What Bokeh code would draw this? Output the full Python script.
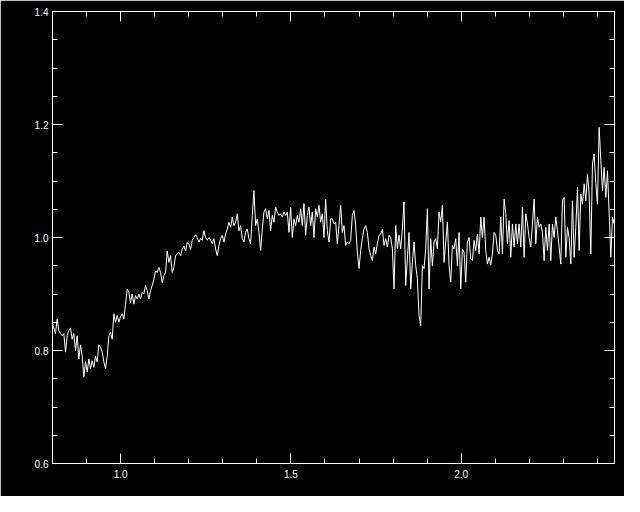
import numpy as np
from bokeh.plotting import figure
from bokeh.models import Range1d, LinearAxis, FixedTicker, PrintfTickFormatter, CustomJSTickFormatter
from bokeh.embed import file_html
from bokeh.resources import INLINE

# flux values, on an even wavelength grid 0.80 -> 2.45 micron
flux_a = [0.85, 0.84, 0.83, 0.856, 0.835, 0.83, 0.826, 0.83, 0.797, 0.826,
          0.835, 0.84, 0.82, 0.83, 0.80, 0.826, 0.785, 0.81, 0.79, 0.753,
          0.78, 0.762, 0.785, 0.768, 0.782, 0.77, 0.79, 0.78, 0.81, 0.806,
          0.797, 0.78, 0.768, 0.79, 0.826, 0.832, 0.82, 0.865, 0.85, 0.862,
          0.85, 0.86, 0.865, 0.856, 0.882, 0.909, 0.903, 0.885, 0.9, 0.882,
          0.897, 0.891, 0.9, 0.891, 0.903, 0.9, 0.915, 0.906, 0.891, 0.906,
          0.915, 0.926, 0.941, 0.938, 0.947, 0.938, 0.92, 0.932, 0.938, 0.976,
          0.956, 0.968, 0.938, 0.947, 0.968, 0.97, 0.974, 0.968, 0.979, 0.985,
          0.976, 0.991, 0.988, 0.979]
flux_b = [0.995, 1.0, 1.005, 1.0, 0.992, 0.998, 0.995, 1.012, 1.0, 0.995,
          1.0, 0.995, 0.989, 0.998, 0.98, 0.968, 0.986, 0.998, 1.004, 0.992,
          1.006, 1.015, 1.027, 1.018, 1.036, 1.021, 1.027, 1.042, 1.012, 1.021,
          0.998, 0.992, 1.009, 1.015, 0.998, 0.989, 1.039, 1.083, 1.021, 1.033,
          1.009, 0.977, 1.015, 1.045, 1.051, 1.033, 1.048, 1.012, 1.039, 1.027,
          1.054, 1.045, 1.039, 1.042, 1.036, 1.045, 1.039, 1.045, 1.009, 1.054,
          1.0, 1.033, 1.021, 1.039, 1.027, 1.051, 1.021, 1.06, 1.004, 1.039,
          1.054, 1.021, 1.045, 1.0, 1.051, 1.036, 1.057, 1.027, 1.042, 1.0,
          1.068, 1.012, 0.992, 1.033]
flux_c = [1.033, 1.024, 1.027, 0.989, 1.021, 1.057, 1.009, 1.021, 0.986, 0.992,
          0.989, 0.995, 1.039, 1.048, 1.021, 0.974, 0.945, 0.977, 0.998, 1.015,
          1.021, 1.009, 0.98, 0.968, 0.959, 0.983, 0.971, 0.989, 1.004, 1.006,
          1.015, 0.986, 0.998, 0.983, 1.004, 1.0, 0.98, 0.909, 1.021, 0.98,
          1.004, 0.98, 1.015, 1.063, 0.915, 0.962, 1.009, 0.909, 0.956, 0.992,
          0.95, 0.927, 0.862, 0.844, 0.95, 0.945, 0.98, 1.051, 0.909, 0.998,
          0.95, 0.992, 0.998, 0.98, 1.045, 1.027, 1.057, 0.956, 0.992, 1.027,
          0.95, 0.921, 0.986, 0.98, 0.998, 0.95, 1.009, 0.909, 0.98, 0.974,
          0.921, 0.992, 1.0, 0.962]
flux_d = [0.959, 0.995, 0.977, 1.006, 0.971, 1.036, 1.0, 1.036, 0.977, 0.953,
          0.965, 0.951, 0.971, 1.009, 1.004, 0.977, 0.971, 1.036, 0.971, 1.068,
          1.042, 0.989, 1.03, 0.965, 1.024, 0.983, 1.024, 0.989, 1.024, 0.983,
          1.054, 0.965, 1.042, 1.024, 1.0, 0.983, 1.024, 1.068, 0.989, 1.036,
          1.018, 1.024, 1.009, 0.959, 1.018, 0.977, 1.024, 0.959, 1.024, 1.0,
          1.036, 1.012, 0.983, 0.953, 1.065, 1.071, 0.965, 1.018, 1.0, 0.953,
          1.065, 0.965, 1.018, 1.089, 0.977, 1.077, 1.059, 1.095, 1.065, 1.112,
          1.077, 0.971, 1.13, 1.148, 1.095, 1.059, 1.195, 1.136, 1.083, 1.124,
          1.071, 1.118, 1.042, 0.965, 1.036, 1.024]

flux = flux_a + flux_b + flux_c + flux_d
wave_start, wave_end = 0.799, 2.449
wavelength = np.linspace(wave_start, wave_end, len(flux))

x_major = [1.0, 1.5, 2.0]
x_minor = [0.9, 1.1, 1.2, 1.3, 1.4, 1.6, 1.7, 1.8, 1.9, 2.1, 2.2, 2.3, 2.4]
y_major = [0.6, 0.8, 1.0, 1.2, 1.4]
y_minor = [0.65, 0.7, 0.75, 0.85, 0.9, 0.95, 1.05, 1.1, 1.15, 1.25, 1.3, 1.35]

p = figure(width=624, height=496, output_backend="svg", toolbar_location=None,
           x_range=Range1d(0.8, 2.45), y_range=Range1d(0.6, 1.4),
           x_axis_location=None, y_axis_location=None,
           background_fill_color="black", border_fill_color="black",
           min_border_left=52, min_border_right=10, min_border_top=11,
           min_border_bottom=33)
p.outline_line_color = "white"
p.outline_line_width = 1
p.xgrid.visible = False
p.ygrid.visible = False

FONT = "Liberation Sans"


def style(ax, labels):
    ax.axis_line_color = "white"
    ax.major_tick_line_color = "white"
    ax.minor_tick_line_color = "white"
    ax.major_tick_in = 10
    ax.major_tick_out = 0
    ax.minor_tick_in = 5
    ax.minor_tick_out = 0
    ax.major_label_text_color = "white"
    ax.major_label_text_font = FONT
    ax.major_label_text_font_size = "10px"
    if labels:
        ax.formatter = PrintfTickFormatter(format="%.1f")
        ax.major_label_standoff = 4
    else:
        ax.formatter = CustomJSTickFormatter(code="return '';")
        ax.major_label_standoff = 0


xt = FixedTicker(ticks=x_major, minor_ticks=x_minor)
yt = FixedTicker(ticks=y_major, minor_ticks=y_minor)

bottom = LinearAxis(ticker=xt)
style(bottom, True)
bottom.major_label_standoff = 6
top = LinearAxis(ticker=xt)
style(top, False)
left = LinearAxis(ticker=yt)
style(left, True)
right = LinearAxis(ticker=yt)
style(right, False)
p.add_layout(bottom, "below")
p.add_layout(top, "above")
p.add_layout(left, "left")
p.add_layout(right, "right")

p.line(wavelength, flux, line_color="white", line_width=1)

open("out.html", "w").write(file_html(p, INLINE))
